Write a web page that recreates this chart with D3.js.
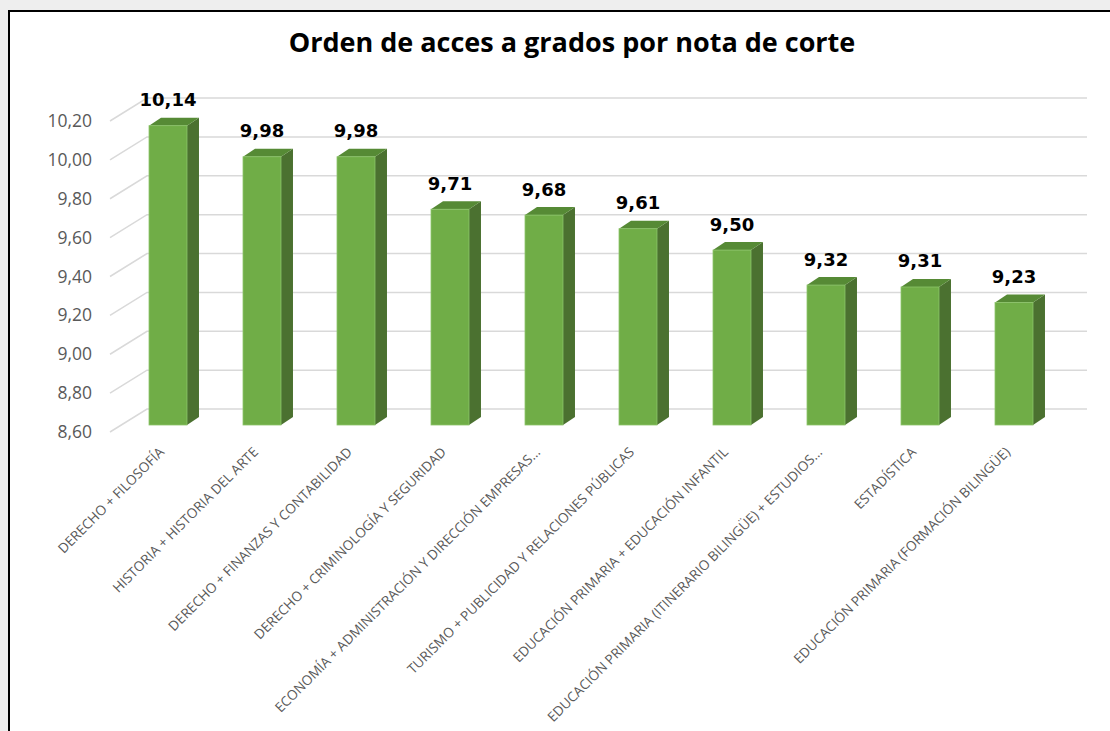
<!doctype html>
<html lang="es">
<head>
<meta charset="utf-8">
<title>Orden de acces a grados por nota de corte</title>
<style>
  body { margin: 0; background: #eeeeee; }
  svg { display: block; }
</style>
</head>
<body>
<svg id="chart" width="1110" height="731"></svg>
<script src="https://cdn.jsdelivr.net/npm/d3@7"></script>
<script>
// data
var categories = [
  "DERECHO + FILOSOFÍA",
  "HISTORIA + HISTORIA DEL ARTE",
  "DERECHO + FINANZAS Y CONTABILIDAD",
  "DERECHO + CRIMINOLOGÍA Y SEGURIDAD",
  "ECONOMÍA + ADMINISTRACIÓN Y DIRECCIÓN EMPRESAS...",
  "TURISMO + PUBLICIDAD Y RELACIONES PÚBLICAS",
  "EDUCACIÓN PRIMARIA + EDUCACIÓN INFANTIL",
  "EDUCACIÓN PRIMARIA (ITINERARIO BILINGÜE) + ESTUDIOS...",
  "ESTADÍSTICA",
  "EDUCACIÓN PRIMARIA (FORMACIÓN BILINGÜE)"
];
var values = [10.14, 9.98, 9.98, 9.71, 9.68, 9.61, 9.50, 9.32, 9.31, 9.23];
var yTicks = [8.6, 8.8, 9.0, 9.2, 9.4, 9.6, 9.8, 10.0, 10.2];
var title = "Orden de acces a grados por nota de corte";

var svg = d3.select("#chart");
var comma = function(v){ return d3.format(".2f")(v).replace(".", ","); };

// 3d offsets
var back = {dx: 37, dy: -23};   // front plane -> back wall
var shift = {dx: 11, dy: -7};   // front plane -> bar front face
var side = {dx: 12, dy: -8};    // bar depth

var x = d3.scaleBand().domain(categories).range([110, 1050])
          .paddingInner(0.596).paddingOuter(0.298);
var y = d3.scaleLinear().domain([8.6, 10.2]).range([432, 121]);

// white chart area with black frame
svg.append("rect")
  .attr("x", 9).attr("y", 11)
  .attr("width", 1200).attr("height", 800)
  .attr("fill", "#ffffff")
  .attr("stroke", "#000000")
  .attr("stroke-width", 2);

// title
svg.append("text")
  .attr("x", 572).attr("y", 52)
  .attr("text-anchor", "middle")
  .style("font-family", "'Open Sans', sans-serif")
  .style("font-weight", "bold")
  .style("font-size", "27px")
  .attr("fill", "#000000")
  .text(title);

// gridlines (floor edge + back wall)
svg.append("g").selectAll("path")
  .data(yTicks)
  .join("path")
  .attr("d", function(t){
    var y0 = y(t);
    return "M" + x.range()[0] + "," + y0 +
           "L" + (x.range()[0] + back.dx) + "," + (y0 + back.dy) +
           "L" + (x.range()[1] + back.dx) + "," + (y0 + back.dy);
  })
  .attr("fill", "none")
  .attr("stroke", "#d9d9d9")
  .attr("stroke-width", 1.5);

// y axis labels
var yAxis = svg.append("g")
  .attr("transform", "translate(92,0)")
  .call(d3.axisLeft(y).tickValues(yTicks).tickFormat(comma).tickSize(0).tickPadding(0));
yAxis.select(".domain").remove();
yAxis.selectAll("text")
  .style("font-family", "'Open Sans', sans-serif")
  .style("font-size", "17.5px")
  .attr("fill", "#595959");

// bars
var bars = svg.append("g").selectAll("g")
  .data(values)
  .join("g");

var bottom = y(y.domain()[0]) + shift.dy;
var w = x.bandwidth();

bars.append("path") // side face
  .attr("d", function(v, i){
    var fx = x(categories[i]) + shift.dx, fy = y(v) + shift.dy;
    return "M" + (fx + w) + "," + fy +
           "L" + (fx + w + side.dx) + "," + (fy + side.dy) +
           "L" + (fx + w + side.dx) + "," + (bottom + side.dy) +
           "L" + (fx + w) + "," + bottom + "Z";
  })
  .attr("fill", "#4b7130");

bars.append("path") // top face
  .attr("d", function(v, i){
    var fx = x(categories[i]) + shift.dx, fy = y(v) + shift.dy;
    return "M" + fx + "," + fy +
           "L" + (fx + side.dx) + "," + (fy + side.dy) +
           "L" + (fx + w + side.dx) + "," + (fy + side.dy) +
           "L" + (fx + w) + "," + fy + "Z";
  })
  .attr("fill", "#568a35");

bars.append("rect") // front face
  .attr("x", function(v, i){ return x(categories[i]) + shift.dx; })
  .attr("y", function(v){ return y(v) + shift.dy; })
  .attr("width", w)
  .attr("height", function(v){ return bottom - (y(v) + shift.dy); })
  .attr("fill", "#70ad47")
  .attr("stroke", "#8cc46a")
  .attr("stroke-width", 0.8);

// value labels
bars.append("text")
  .attr("x", function(v, i){ return x(categories[i]) + shift.dx + w / 2; })
  .attr("y", function(v){ return y(v) + shift.dy - 19.5; })
  .attr("text-anchor", "middle")
  .style("font-family", "'DejaVu Sans', sans-serif")
  .style("font-weight", "bold")
  .style("font-size", "18px")
  .attr("fill", "#000000")
  .text(comma);

// category labels, rotated
svg.append("g").selectAll("text")
  .data(categories)
  .join("text")
  .attr("transform", function(c){
    return "translate(" + (x(c) + shift.dx + w / 2 - 3) + ",453) rotate(-45)";
  })
  .attr("text-anchor", "end")
  .style("font-family", "'Open Sans', sans-serif")
  .style("font-size", "13.6px")
  .attr("fill", "#595959")
  .text(function(c){ return c; });
</script>
</body>
</html>
